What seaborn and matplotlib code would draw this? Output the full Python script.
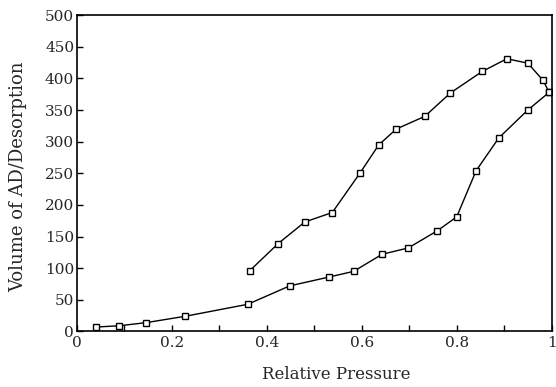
import matplotlib
matplotlib.use("Agg")
import matplotlib.pyplot as plt
from matplotlib.ticker import MultipleLocator, FuncFormatter
import seaborn as sns
import pandas as pd

# adsorption branch (lower curve)
ads_p = [0.04, 0.089, 0.146, 0.228, 0.36, 0.448, 0.531, 0.583, 0.643, 0.698, 0.759, 0.80,
         0.841, 0.889, 0.95, 0.995]
ads_v = [7, 9, 14, 24, 43, 72, 86, 95, 122, 132, 159, 181, 254, 306, 350, 378]

# desorption branch (upper curve)
des_p = [0.364, 0.424, 0.48, 0.538, 0.596, 0.636, 0.673, 0.733, 0.787, 0.854, 0.906,
         0.95, 0.982, 0.995]
des_v = [96, 139, 173, 188, 250, 295, 320, 340, 377, 411, 431, 424, 397, 378]

df = pd.concat([
    pd.DataFrame({'p': ads_p, 'v': ads_v, 'branch': 'Adsorption'}),
    pd.DataFrame({'p': des_p, 'v': des_v, 'branch': 'Desorption'}),
])

sns.set_style("ticks")
plt.rcParams['font.family'] = ['DejaVu Serif']

fig = plt.figure(figsize=(5.56, 3.87), dpi=100)
ax = fig.add_axes([0.1385, 0.1435, 0.8535, 0.8175])

sns.lineplot(data=df, x='p', y='v', units='branch', estimator=None, sort=False,
             color='black', linewidth=1.0, marker='s', markersize=4.5,
             markerfacecolor='white', markeredgecolor='black', markeredgewidth=1.0,
             ax=ax)

ax.set_xlim(0, 1)
ax.set_ylim(0, 500)
ax.xaxis.set_major_locator(MultipleLocator(0.2))
ax.xaxis.set_minor_locator(MultipleLocator(0.1))
ax.yaxis.set_major_locator(MultipleLocator(50))
ax.xaxis.set_major_formatter(FuncFormatter(lambda v, _: f"{v:g}"))
ax.tick_params(direction='in', which='both', labelsize=11, color='black', width=1.0)
ax.tick_params(which='major', length=4)
ax.tick_params(which='minor', length=4)
ax.tick_params(axis='y', pad=2)
for s in ax.spines.values():
    s.set_color('black')
    s.set_linewidth(1.2)

ax.set_xlabel('Relative Pressure', fontsize=12)
ax.set_ylabel('Volume of AD/Desorption', fontsize=13)
ax.xaxis.set_label_coords(0.546, -0.11)
ax.yaxis.set_label_coords(-0.104, 0.49)

fig.savefig('out.png', dpi=100)
